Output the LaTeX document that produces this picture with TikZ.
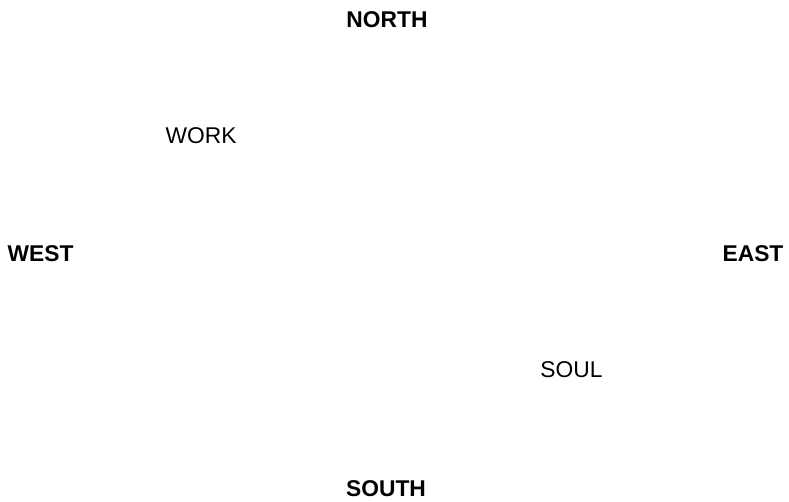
\documentclass[tikz,border=0pt]{standalone}
\usepackage{fontspec}
\setmainfont{Liberation Sans}
\begin{document}
\begin{tikzpicture}[x=1pt,y=-1pt,
  lbl/.style={anchor=base,inner sep=0pt,font=\fontsize{22.8}{26}\selectfont},
  dir/.style={lbl,font=\fontsize{22.8}{26}\selectfont\bfseries}]
\useasboundingbox (0,0) rectangle (789,501);
\node[dir] (north) at (387,27.5) {NORTH};
\node[lbl] (work) at (201,143) {WORK};
\node[dir] (west) at (40.5,261) {WEST};
\node[dir] (east) at (753,261) {EAST};
\node[lbl] (soul) at (571.5,377) {SOUL};
\node[dir] (south) at (386,496) {SOUTH};
\end{tikzpicture}
\end{document}
